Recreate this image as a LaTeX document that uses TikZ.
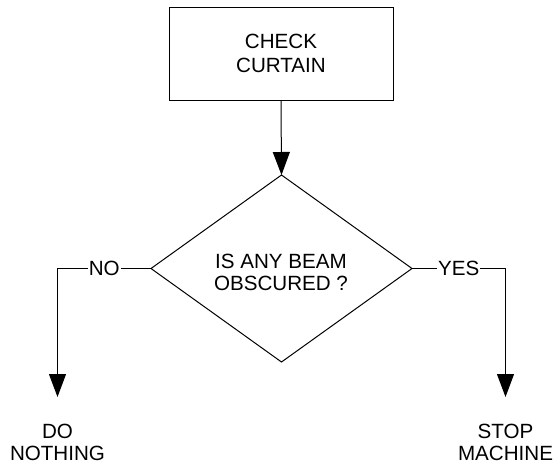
\documentclass[tikz,border=0pt]{standalone}
\usepackage{fontspec}
\setmainfont{Liberation Sans}
\usetikzlibrary{shapes.geometric,arrows.meta}
\begin{document}
\begin{tikzpicture}[x=1pt,y=-1pt,
  every node/.style={font=\fontsize{20.6pt}{22pt}\selectfont},
  procbox/.style={draw,line width=1pt,minimum width=224pt,minimum height=93pt,inner sep=0pt,outer sep=0pt,align=center,font=\fontsize{20.6pt}{24pt}\selectfont},
  decision/.style={draw,diamond,line width=1pt,minimum width=261pt,minimum height=187pt,aspect=1.4,inner sep=0pt,outer sep=0pt},
  txt/.style={align=center,inner sep=0pt},
  lbl/.style={fill=white,inner xsep=1pt,inner ysep=2pt},
  flow/.style={line width=1pt,-{Triangle[length=23pt,width=17pt]}}
]
\useasboundingbox (0,0) rectangle (555,466);
\node[procbox] (check) at (281,53.5) {CHECK\\CURTAIN};
\node[decision] (dia) at (281.5,268.5) {};
\node[txt] (q) at (281,272) {IS ANY BEAM\\OBSCURED ?};
\node[txt] (don) at (57.5,442.5) {DO\\NOTHING};
\node[txt] (stop) at (505.5,442.5) {STOP\\MACHINE};
\coordinate (noend) at (57.5,397);
\coordinate (yesend) at (505.5,397);
\draw[flow] (check.south) -- (dia.north);
\draw[flow] (dia.west) -- node[lbl]{NO} (dia.west -| noend) -- (noend);
\draw[flow] (dia.east) -- node[lbl]{YES} (dia.east -| yesend) -- (yesend);
\end{tikzpicture}
\end{document}
